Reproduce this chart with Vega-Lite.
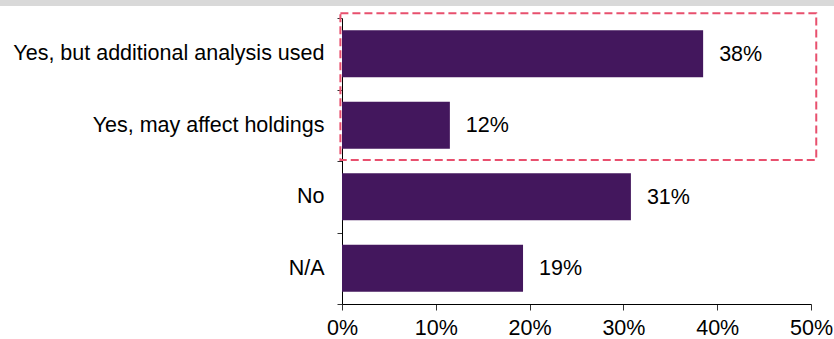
{
  "$schema": "https://vega.github.io/schema/vega-lite/v6.json",
  "autosize": {"type": "none"},
  "padding": {"left": 342, "top": 18, "right": 23, "bottom": 35},
  "width": 469,
  "height": 286,
  "background": "white",
  "config": {
    "view": {"stroke": null},
    "font": "Liberation Sans"
  },
  "resolve": {"scale": {"y": "independent"}},
  "layer": [
    {
      "data": {"values": [
        {"strip": "header", "x1": -37, "x2": 53, "y1": -0.2517, "y2": -0.1678}
      ]},
      "mark": {"type": "rect", "color": "#d9d9d9", "clip": false},
      "encoding": {
        "x": {"field": "x1", "type": "quantitative", "scale": {"domain": [0, 50], "nice": false}},
        "x2": {"field": "x2"},
        "y": {"field": "y1", "type": "quantitative", "scale": {"domain": [0, 4], "reverse": true, "nice": false, "zero": false}, "axis": null},
        "y2": {"field": "y2"}
      }
    },
    {
      "data": {"values": [
        {"category": "Yes, but additional analysis used", "value": 38.5, "label": "38%"},
        {"category": "Yes, may affect holdings", "value": 11.5, "label": "12%"},
        {"category": "No", "value": 30.8, "label": "31%"},
        {"category": "N/A", "value": 19.3, "label": "19%"}
      ]},
      "encoding": {
        "y": {
          "field": "category", "type": "nominal",
          "sort": ["Yes, but additional analysis used", "Yes, may affect holdings", "No", "N/A"],
          "scale": {"paddingInner": 0, "paddingOuter": 0},
          "axis": {
            "title": null, "labelFontSize": 21.5, "labelColor": "#000000", "labelFont": "Liberation Sans",
            "domainColor": "#000000", "tickColor": "#333333", "tickSize": 5, "labelPadding": 13,
            "tickBand": "extent", "labelLimit": 500
          }
        },
        "x": {
          "field": "value", "type": "quantitative",
          "scale": {"domain": [0, 50], "nice": false},
          "axis": {
            "title": null, "values": [0, 10, 20, 30, 40, 50], "labelExpr": "datum.value + '%'",
            "grid": false, "tickSize": 6, "labelFontSize": 21.5, "labelColor": "#000000", "labelFont": "Liberation Sans",
            "domainColor": "#000000", "tickColor": "#333333", "labelPadding": 7, "labelFlush": false
          }
        }
      },
      "layer": [
        {"mark": {"type": "bar", "color": "#43175d", "height": {"band": 0.66}}},
        {
          "mark": {"type": "text", "align": "left", "baseline": "middle", "dx": 16, "dy": 1, "fontSize": 21.5, "color": "#000000", "font": "Liberation Sans"},
          "encoding": {"text": {"field": "label"}}
        }
      ]
    },
    {
      "data": {"values": [
        {"group": "Yes", "x1": -0.17, "x2": 50.56, "y1": -0.066, "y2": 1.985}
      ]},
      "mark": {"type": "rect", "filled": false, "stroke": "#e8506e", "strokeWidth": 2, "strokeDash": [8, 4], "clip": false},
      "encoding": {
        "x": {"field": "x1", "type": "quantitative"},
        "x2": {"field": "x2"},
        "y": {"field": "y1", "type": "quantitative", "scale": {"domain": [0, 4], "reverse": true, "nice": false, "zero": false}, "axis": null},
        "y2": {"field": "y2"}
      }
    }
  ]
}
